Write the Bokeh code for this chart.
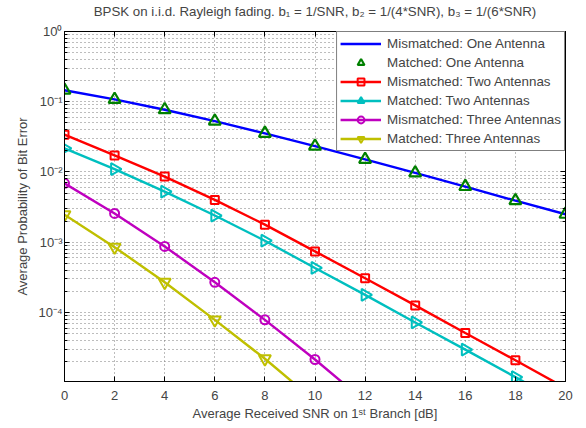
import math
from bokeh.plotting import figure
from bokeh.models import (Range1d, FixedTicker, LogAxis, LinearAxis, Legend,
                          LegendItem, CustomJSTickFormatter)
from bokeh.embed import file_html
from bokeh.resources import INLINE

# ---- data ----
snr_db = [0, 2, 4, 6, 8, 10, 12, 14, 16, 18, 20]
mismatched_one = [0.146, 0.108, 0.077, 0.053, 0.0355, 0.0233, 0.0151, 0.0097, 0.0062, 0.0039, 0.0025]
matched_one = [0.146, 0.108, 0.077, 0.053, 0.0355, 0.0233, 0.0151, 0.0097, 0.0062, 0.0039, 0.0025]
mismatched_two = [0.034, 0.0172, 0.0086, 0.0040, 0.00178, 7.4e-4, 3.07e-4, 1.26e-4, 5.1e-5, 2.09e-5, 8.4e-6]
matched_two = [0.0217, 0.0110, 0.00525, 0.0024, 0.00105, 4.3e-4, 1.78e-4, 7.2e-5, 2.96e-5, 1.2e-5, 4.8e-6]
snr_mis_three = [0, 2, 4, 6, 8, 10, 12]
mismatched_three = [0.0069, 0.00257, 8.7e-4, 2.69e-4, 7.85e-5, 2.14e-5, 5.4e-6]
snr_mat_three = [0, 2, 4, 6, 8, 10]
matched_three = [0.00247, 8.5e-4, 2.69e-4, 7.85e-5, 2.19e-5, 5.5e-6]

x_ticks = [0, 2, 4, 6, 8, 10, 12, 14, 16, 18, 20]
y_major = [1e-4, 1e-3, 1e-2, 1e-1, 1.0]
y_minor = [m * d for d in [1e-5, 1e-4, 1e-3, 1e-2, 1e-1] for m in range(2, 10)]

title_text = "BPSK on i.i.d. Rayleigh fading. b\u2081 = 1/SNR, b\u2082 = 1/(4*SNR), b\u2083 = 1/(6*SNR)"
x_label = "Average Received SNR on 1\u02e2\u1d57 Branch [dB]"
y_label = "Average Probability of Bit Error"

FONT = "Liberation Sans"

p = figure(width=580, height=424, y_axis_type="log",
           x_range=Range1d(0, 20), y_range=Range1d(1.04e-5, 1.0),
           output_backend="svg", toolbar_location=None,
           min_border_left=64, min_border_right=15, min_border_top=31, min_border_bottom=43)

p.outline_line_color = "black"
p.outline_line_width = 1
p.background_fill_color = "white"
p.border_fill_color = "white"

xticker = FixedTicker(ticks=x_ticks)
yticker = FixedTicker(ticks=y_major, minor_ticks=y_minor)

ylab = CustomJSTickFormatter(code="""
const e = Math.round(Math.log10(tick));
const sup = {'-':'\u207b','0':'\u2070','1':'\u00b9','2':'\u00b2','3':'\u00b3','4':'\u2074','5':'\u2075','6':'\u2076','7':'\u2077','8':'\u2078','9':'\u2079'};
return '10' + String(e).split('').map(c => sup[c]).join('');
""")

xa = p.xaxis[0]
xa.ticker = xticker
xa.axis_label = x_label
ya = p.yaxis[0]
ya.ticker = yticker
ya.formatter = ylab
ya.axis_label = y_label

for ax in (xa, ya):
    ax.axis_label_text_font = FONT
    ax.axis_label_text_font_size = "13px"
    ax.axis_label_text_font_style = "normal"
    ax.major_label_text_font = FONT
    ax.major_label_text_font_size = "13px"
    ax.major_tick_in = 5
    ax.major_tick_out = 0
    ax.minor_tick_in = 3
    ax.minor_tick_out = 0
    ax.axis_line_color = "black"
    ax.major_tick_line_color = "black"
    ax.minor_tick_line_color = "black"
xa.minor_tick_line_color = None
xa.major_label_standoff = 9
xa.axis_label_standoff = 3
ya.major_label_standoff = 2
ya.axis_label_standoff = 5

ra = LogAxis(ticker=yticker, major_label_text_font_size="4px", major_label_text_color=None,
             major_tick_in=5, major_tick_out=0,
             minor_tick_in=3, minor_tick_out=0, major_label_standoff=0, axis_line_color="black")
p.add_layout(ra, "right")
# top box axis; its label carries the chart title
ta = LinearAxis(ticker=xticker, major_label_text_font_size="4px", major_label_text_color=None,
                major_tick_in=5, major_tick_out=0,
                minor_tick_line_color=None, major_label_standoff=0, axis_line_color="black",
                axis_label=title_text, axis_label_text_font=FONT, axis_label_text_font_size="13.3px",
                axis_label_text_font_style="normal", axis_label_standoff=13)
p.add_layout(ta, "above")

for g in (p.xgrid[0], p.ygrid[0]):
    g.grid_line_color = "#7a7a7a"
    g.grid_line_dash = "1 3"
    g.grid_line_width = 1
p.ygrid[0].minor_grid_line_color = "#7a7a7a"
p.ygrid[0].minor_grid_line_dash = "1 3"
p.ygrid[0].minor_grid_line_width = 1

BLUE, GREEN, RED, CYAN, MAG, YEL = "#0000ff", "#008000", "#ff0000", "#00bfbf", "#bf00bf", "#bfbf00"

l1 = p.line(snr_db, mismatched_one, line_color=BLUE, line_width=2.4)
s1 = p.scatter(snr_db, matched_one, marker="triangle", size=12, line_color=GREEN, line_width=2.2, fill_alpha=0)
l2 = p.line(snr_db, mismatched_two, line_color=RED, line_width=2.4)
s2 = p.scatter(snr_db, mismatched_two, marker="square", size=8, line_color=RED, line_width=2, fill_alpha=0)
l3 = p.line(snr_db, matched_two, line_color=CYAN, line_width=2.4)
s3 = p.scatter(snr_db, matched_two, marker="triangle", angle=-math.pi / 2, size=12, line_color=CYAN,
               line_width=2, fill_alpha=0)
l4 = p.line(snr_mis_three, mismatched_three, line_color=MAG, line_width=2.4)
s4 = p.scatter(snr_mis_three, mismatched_three, marker="circle", size=9, line_color=MAG, line_width=2, fill_alpha=0)
l5 = p.line(snr_mat_three, matched_three, line_color=YEL, line_width=2.4)
s5 = p.scatter(snr_mat_three, matched_three, marker="inverted_triangle", size=12, line_color=YEL,
               line_width=2, fill_alpha=0)

legend = Legend(items=[
    LegendItem(label="Mismatched: One Antenna", renderers=[l1]),
    LegendItem(label="Matched: One Antenna", renderers=[s1]),
    LegendItem(label="Mismatched: Two Antennas", renderers=[l2, s2]),
    LegendItem(label="Matched: Two Antennas", renderers=[l3, s3]),
    LegendItem(label="Mismatched: Three Antennas", renderers=[l4, s4]),
    LegendItem(label="Matched: Three Antennas", renderers=[l5, s5]),
], location="top_right", margin=0, padding=3, spacing=2, glyph_height=17, glyph_width=41,
    label_height=17, label_standoff=6, label_text_font=FONT, label_text_font_size="13.4px",
    border_line_color="black", border_line_width=1, background_fill_color="white",
    background_fill_alpha=1.0)
p.add_layout(legend)

open("out.html", "w").write(file_html(p, INLINE))
